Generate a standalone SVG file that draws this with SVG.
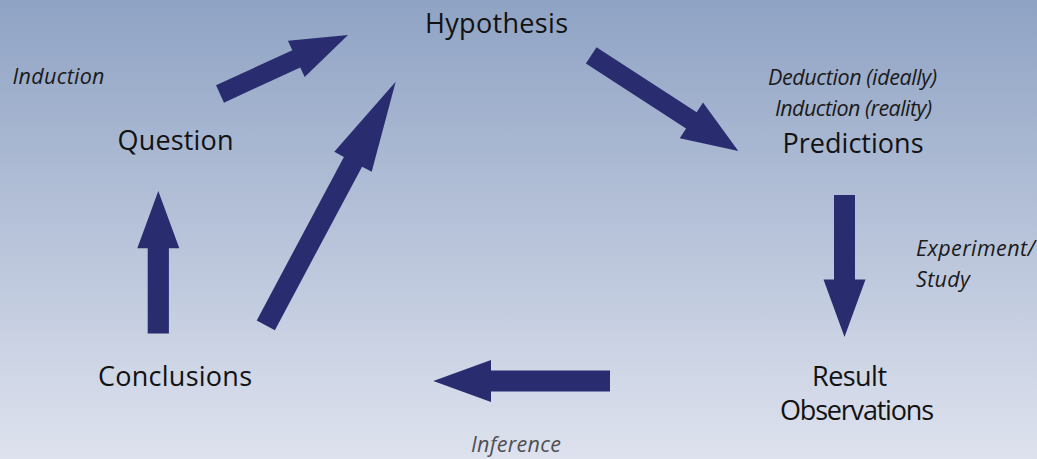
<svg xmlns="http://www.w3.org/2000/svg" width="1037" height="459" viewBox="0 0 1037 459">
  <defs>
    <linearGradient id="bg" x1="0" y1="0" x2="0" y2="1">
      <stop offset="0" stop-color="#8FA3C4"/>
      <stop offset="1" stop-color="#DEE2EE"/>
    </linearGradient>
  </defs>
  <style>
    .arrow { fill: #2A2C70; }
    .node { font-family: "Open Sans", "Liberation Sans", sans-serif; font-size: 27px; fill: #121212; text-anchor: middle; }
    .lbl { font-family: "Open Sans", "Liberation Sans", sans-serif; font-size: 21.5px; font-style: italic; fill: #1A1A1A; }
    .inf { fill: #4F4F55; }
  </style>
  <rect x="0" y="0" width="1037" height="459" fill="url(#bg)"/>

  <g id="connectors">
    <polygon class="arrow" transform="translate(220,94) rotate(-24.75)" points="0,-9.5 84,-9.5 84,-20 141,0 84,20 84,9.5 0,9.5"/>
    <polygon class="arrow" transform="translate(591.2,55.3) rotate(33.05)" points="0,-9.7 119.5,-9.7 119.5,-21.3 175.5,0 119.5,21.3 119.5,9.7 0,9.7"/>
    <polygon class="arrow" transform="translate(844.5,195) rotate(90)" points="0,-10.5 84.5,-10.5 84.5,-21 142,0 84.5,21 84.5,10.5 0,10.5"/>
    <polygon class="arrow" transform="translate(610,381) rotate(180)" points="0,-10.5 119,-10.5 119,-21 176.7,0 119,21 119,10.5 0,10.5"/>
    <polygon class="arrow" transform="translate(158.3,333.5) rotate(-90)" points="0,-10.6 85.2,-10.6 85.2,-21 142.5,0 85.2,21 85.2,10.6 0,10.6"/>
    <polygon class="arrow" transform="translate(265.8,325.3) rotate(-61.93)" points="0,-10.3 185.3,-10.3 185.3,-21.2 276,0 185.3,21.2 185.3,10.3 0,10.3"/>
  </g>

  <g id="hypothesis"><text class="node" x="496.5" y="33" textLength="143">Hypothesis</text></g>
  <g id="question"><text class="node" x="175.5" y="150" textLength="116">Question</text></g>
  <g id="predictions"><text class="node" x="853" y="153" textLength="141">Predictions</text></g>
  <g id="conclusions"><text class="node" x="175" y="386" textLength="154">Conclusions</text></g>
  <g id="result"><text class="node" x="849.5" y="386" textLength="75">Result</text><text class="node" x="857" y="420" textLength="154">Observations</text></g>

  <g id="labels">
    <text class="lbl" x="12.5" y="84" textLength="92">Induction</text>
    <text class="lbl" x="768" y="85" textLength="169">Deduction (ideally)</text>
    <text class="lbl" x="775" y="116" textLength="157">Induction (reality)</text>
    <text class="lbl" x="916" y="256" textLength="119">Experiment/</text>
    <text class="lbl" x="916" y="287" textLength="54">Study</text>
    <text class="lbl inf" x="471" y="452" textLength="90">Inference</text>
  </g>
</svg>
